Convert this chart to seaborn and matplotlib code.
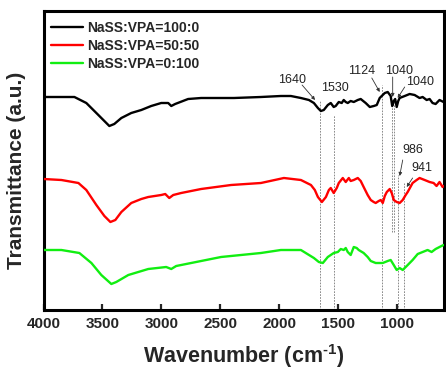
import numpy as np
import pandas as pd
import matplotlib
matplotlib.use("Agg")
import matplotlib.pyplot as plt
import seaborn as sns
from matplotlib.lines import Line2D

# ---- data ----
wn_a = [4000, 3738, 3637, 3535, 3442, 3400, 3340, 3256, 3171, 3087, 3002, 2943, 2917, 2884,
        2774, 2664, 2385, 2157, 1988, 1903, 1818, 1750, 1708, 1674, 1649, 1624, 1590, 1565,
        1540, 1523, 1497, 1472, 1455, 1438, 1421, 1396, 1370, 1336, 1311, 1269, 1234, 1200,
        1175, 1150, 1133, 1107, 1082, 1057, 1044, 1031, 1019, 1006, 993, 981, 938, 896, 854,
        812, 786, 752, 727, 702, 676, 643, 609]
t_a = [213, 213, 207, 195, 184, 186, 192, 197, 200, 204, 207, 207, 204, 206,
       211, 212, 212, 213, 214, 214, 212, 210, 207, 202, 199, 200, 205, 207,
       203, 204, 208, 207, 210, 208, 207, 209, 208, 210, 211, 207, 203, 204,
       205, 212, 214, 217, 218, 214, 204, 209, 211, 203, 209, 212, 214, 216, 215,
       212, 213, 210, 211, 207, 206, 210, 208]

wn_b = [4000, 3848, 3704, 3637, 3552, 3484, 3433, 3391, 3340, 3256, 3171, 3112, 3002, 2968,
        2934, 2900, 2833, 2664, 2410, 2157, 1962, 1818, 1733, 1700, 1674, 1640, 1606, 1581,
        1565, 1540, 1514, 1497, 1463, 1438, 1412, 1396, 1370, 1336, 1311, 1286, 1252, 1226,
        1201, 1184, 1158, 1141, 1124, 1107, 1090, 1065, 1048, 1031, 1006, 981, 955, 930, 913,
        871, 837, 812, 769, 727, 693, 668, 643, 617, 609]
t_b = [131, 130, 127, 120, 105, 94, 88, 90, 98, 107, 111, 113, 115, 116,
       112, 115, 117, 121, 125, 127, 132, 130, 125, 120, 113, 108, 113, 120,
       122, 117, 122, 127, 132, 128, 132, 129, 130, 132, 129, 123, 115, 110,
       108, 107, 109, 110, 107, 114, 118, 121, 117, 110, 108, 107, 110, 115, 118,
       127, 130, 132, 130, 128, 127, 124, 128, 123, 124]

wn_c = [4000, 3848, 3696, 3594, 3510, 3425, 3383, 3281, 3112, 2960, 2917, 2875, 2664, 2495,
        2157, 1988, 1818, 1708, 1666, 1632, 1590, 1540, 1505, 1480, 1455, 1438, 1421, 1396,
        1370, 1345, 1328, 1286, 1252, 1226, 1184, 1124, 1082, 1057, 1031, 1006, 981, 955,
        921, 871, 828, 786, 744, 710, 676, 643, 609]
t_c = [60, 60, 57, 47, 35, 26, 28, 35, 41, 43, 41, 44, 49, 53,
       57, 60, 60, 52, 48, 47, 53, 57, 58, 61, 60, 62, 58, 55,
       63, 62, 60, 57, 53, 49, 47, 47, 49, 50, 45, 40, 42, 40,
       44, 50, 56, 58, 60, 58, 61, 63, 65]

series_names = ["NaSS:VPA=100:0", "NaSS:VPA=50:50", "NaSS:VPA=0:100"]
series_colors = ["#000000", "#ff0000", "#11ee11"]

# marker (dashed) lines: wavenumber, top, bottom
mark_wn = [1660, 1535, 1130, 1042, 1028, 992, 945]
mark_top = [210, 195, 225, 207, 207, 135, 127]
mark_bot = [0, 0, 0, 78, 78, 0, 0]

# peak labels: text, text pos (wn, y), arrow tail, arrow head (None = no arrow)
peak_labels = ["1640", "1530", "1124", "1040", "1040", "986", "941"]
peak_text_wn = [1893, 1530, 1302, 989, 812, 871, 795]
peak_text_y = [230, 222, 239, 239, 228, 160, 142]
peak_head_wn = [1698, None, 1150, 1040, 998, 981, 921]
peak_head_y = [210, None, 218, 213, 212, 134, 123]
peak_tail_wn = [1808, None, 1217, 1040, 938, 955, 871]
peak_tail_y = [225, None, 232, 233, 223, 150, 132]

xticks = [4000, 3500, 3000, 2500, 2000, 1500, 1000]

# ---- build long table ----
frames = []
for name, w, t in zip(series_names, [wn_a, wn_b, wn_c], [t_a, t_b, t_c]):
    frames.append(pd.DataFrame({"wn": w, "T": t, "series": name}))
df = pd.concat(frames, ignore_index=True)

sns.set_style("ticks")
plt.rcParams["font.family"] = ["Liberation Sans", "DejaVu Sans"]
plt.rcParams["mathtext.fontset"] = "custom"
plt.rcParams["mathtext.rm"] = "Liberation Sans:bold"
plt.rcParams["mathtext.default"] = "rm"

fig = plt.figure(figsize=(4.46, 3.71), dpi=100)
ax = fig.add_axes([43.5 / 446, 1 - 310 / 371, (444 - 43.5) / 446, (310 - 11) / 371])

for w, t0, t1 in zip(mark_wn, mark_top, mark_bot):
    ax.plot([w, w], [t1, t0], ls=(0, (2, 1.5)), lw=0.6, color="#777777", zorder=1)

sns.lineplot(data=df, x="wn", y="T", hue="series", hue_order=series_names,
             palette=dict(zip(series_names, series_colors)), sort=False,
             estimator=None, lw=1.7, ax=ax, legend=False, zorder=3,
             solid_joinstyle="round", solid_capstyle="round")

for lab, tx, ty, hx, hy, sx, sy in zip(peak_labels, peak_text_wn, peak_text_y,
                                        peak_head_wn, peak_head_y, peak_tail_wn, peak_tail_y):
    ax.text(tx, ty, lab, ha="center", va="center", fontsize=9, color="#222222", zorder=5)
    if hx is not None:
        ax.annotate("", xy=(hx, hy), xytext=(sx, sy),
                    arrowprops=dict(arrowstyle="-|>", lw=0.6, color="#333333",
                                    mutation_scale=5, shrinkA=0, shrinkB=0), zorder=5)

ax.set_xlim(4000, 605)
ax.set_ylim(0, 299)
ax.set_xticks(xticks)
ax.set_xticklabels([str(v) for v in xticks], fontsize=11, fontweight="bold")
ax.set_yticks([])
ax.tick_params(axis="x", direction="in", length=4, width=1.6, pad=5)
for s in ax.spines.values():
    s.set_linewidth(2.2)
    s.set_color("black")

ax.set_xlabel(r"Wavenumber (cm$^{\text{-}1}$)", fontsize=15.5, fontweight="bold")
ax.xaxis.set_label_coords(0.5, -0.155)
ax.xaxis.label.set_verticalalignment("center")
ax.set_ylabel("Transmittance (a.u.)", fontsize=15, fontweight="bold")
ax.yaxis.set_label_coords(-0.067, 0.468)
ax.yaxis.label.set_verticalalignment("center")

handles = [Line2D([], [], color=c, lw=1.7) for c in series_colors]
ax.legend(handles, series_names, loc="upper left", bbox_to_anchor=(0.018, 0.968),
          frameon=False, borderpad=0, borderaxespad=0, handlelength=2.3,
          handletextpad=0.35, labelspacing=0.3,
          prop={"weight": "bold", "size": 10})

fig.savefig("out.png", dpi=100)
